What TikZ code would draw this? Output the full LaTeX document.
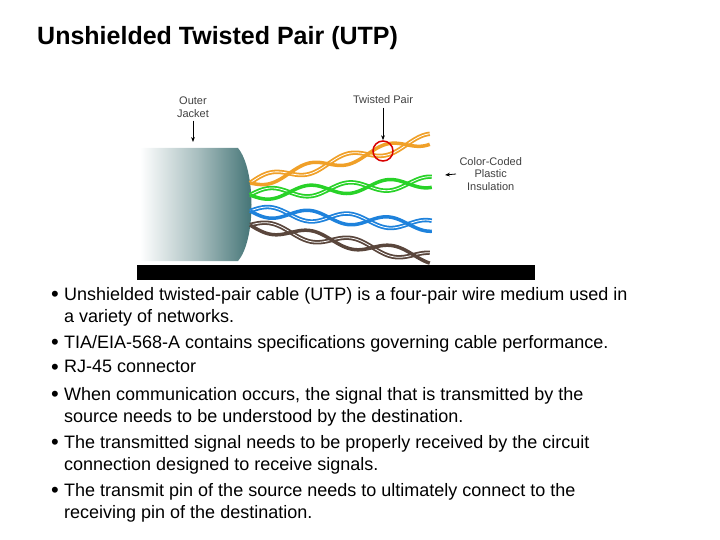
\documentclass[tikz,border=0pt]{standalone}
\usepackage{fontspec}
\setmainfont{Liberation Sans}
\usetikzlibrary{arrows.meta}
\definecolor{jack}{RGB}{60,110,112}
\definecolor{wor}{RGB}{240,160,40}
\definecolor{wgr}{RGB}{40,210,40}
\definecolor{wbl}{RGB}{30,130,220}
\definecolor{wbr}{RGB}{90,70,60}
\newcommand{\twpair}[6]{% color x0 y0 x1 y1 twists
 \draw[#1,line width=1.8pt,double=white,double distance=0.8pt] plot[domain=0:1,samples=120,smooth] ({#2+(#4-#2)*\x},{#3+(#5-#3)*\x+5.5*sin(\x*#6*360+180)});
 \draw[#1,line width=3.5pt] plot[domain=0:1,samples=120,smooth] ({#2+(#4-#2)*\x},{#3+(#5-#3)*\x+5.5*sin(\x*#6*360)});
}
\tikzset{lbl/.style={font=\fontsize{11}{12.5}\selectfont,align=center,text=black!75},
 arr/.style={-{Stealth[length=5pt]},thick},
 bul/.style={font=\fontsize{22}{22}\selectfont,anchor=west,inner sep=0},
 txt/.style={font=\fontsize{18}{22}\selectfont,anchor=north west,align=left,inner sep=0}}
\begin{document}
\begin{tikzpicture}[x=1pt,y=-1pt]
\useasboundingbox (0,0) rectangle (720,540);
\node[anchor=west,font=\bfseries\fontsize{25}{30}\selectfont,inner sep=0] (title) at (37,38) {Unshielded Twisted Pair (UTP)};
% jacket
\shade[left color=white,right color=jack,middle color=jack!45] (140,148) -- (238,148) .. controls (256,170) and (256,240) .. (238,261) -- (140,261) -- cycle;
\fill[black] (137,265) rectangle (535,280);
\twpair{wbr}{250}{225}{430}{258}{2.2}
\twpair{wbl}{250}{211}{432}{226}{2.3}
\twpair{wgr}{250}{195}{432}{182}{2.3}
\twpair{wor}{250}{183}{430}{139}{2.3}
\node[draw=red!85!black,line width=1.5pt,circle,minimum size=20pt,inner sep=0] (circ) at (383,151) {};
\node[lbl] (tp) at (383,100) {Twisted Pair};
\node[lbl] (oj) at (193,107) {Outer\\Jacket};
\node[lbl,anchor=west] (cc) at (456,174) {Color-Coded\\Plastic\\Insulation};
\coordinate (ojend) at (193,142);
\coordinate (ccend) at (445,175);
\draw[arr] (tp) -- (circ);
\draw[arr] (oj) -- (ojend);
\draw[arr] (cc.west) -- (ccend);
% bullets
\foreach \y/\n in {296/1,344/2,369/3,396/4,444/5,492/6}
  \node[bul] (b\n) at (51,\y) {•};
\node[txt] (t1) at (64,287) {Unshielded twisted-pair cable (UTP) is a four-pair wire medium used in\\a variety of networks.};
\node[txt] (t2) at (64,335) {TIA/EIA-568-A contains specifications governing cable performance.};
\node[txt] (t3) at (64,360) {RJ-45 connector};
\node[txt] (t4) at (64,387) {When communication occurs, the signal that is transmitted by the\\source needs to be understood by the destination.};
\node[txt] (t5) at (64,435) {The transmitted signal needs to be properly received by the circuit\\connection designed to receive signals.};
\node[txt] (t6) at (64,483) {The transmit pin of the source needs to ultimately connect to the\\receiving pin of the destination.};
\end{tikzpicture}
\end{document}
